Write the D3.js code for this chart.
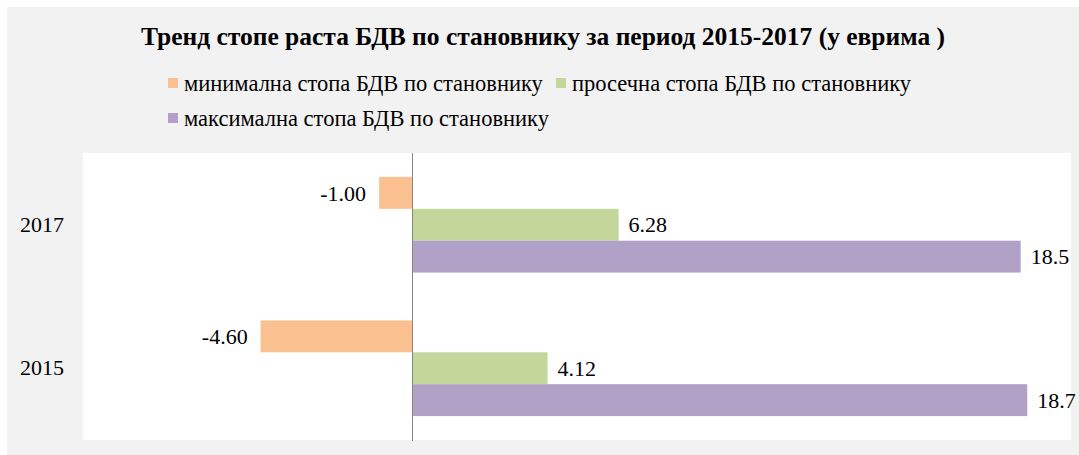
<!DOCTYPE html>
<html>
<head>
<meta charset="utf-8">
<script src="https://cdn.jsdelivr.net/npm/d3@7"></script>
<style>
  body { margin: 0; background: #ffffff; }
  text { font-family: "Liberation Serif", "Times New Roman", serif; fill: #000; }
</style>
</head>
<body>
<div id="chart"></div>
<script>
const width = 1079;
const height = 455;

const titleText = "Тренд стопе раста БДВ по становнику за период 2015-2017 (у еврима )";
const years = ["2017", "2015"];
const seriesNames = [
    "минимална стопа БДВ по становнику",
    "просечна стопа БДВ по становнику",
    "максимална стопа БДВ по становнику"
];
const minValues = [-1.00, -4.60];
const avgValues = [6.28, 4.12];
const maxValues = [18.5, 18.7];
const seriesColors = ["#fac090", "#c4d79b", "#b2a1c7"];
const labelFormats = [".2f", ".2f", ".1f"];

const seriesValues = [minValues, avgValues, maxValues];

const svg = d3.select("#chart")
              .append("svg")
              .attr("width", width)
              .attr("height", height);

// outer chart background
svg.append("rect")
   .attr("x", 7).attr("y", 7)
   .attr("width", width - 7).attr("height", height - 7)
   .attr("fill", "#f2f2f2");

const plot = { left: 83, right: 1071, top: 153, bottom: 440 };

svg.append("rect")
   .attr("x", plot.left).attr("y", plot.top)
   .attr("width", plot.right - plot.left)
   .attr("height", plot.bottom - plot.top)
   .attr("fill", "#ffffff");

const x = d3.scaleLinear().domain([-10, 20]).range([plot.left, plot.right - 1]);

const gap = 1 / 3; // excel gap width 50%
const y = d3.scaleBand()
            .domain(years)
            .range([plot.top, plot.bottom])
            .paddingInner(gap)
            .paddingOuter(gap / 2);

const ySeries = d3.scaleBand()
                  .domain(d3.range(seriesNames.length))
                  .range([0, y.bandwidth()]);

// hyphen instead of unicode minus, like the original labels
const fmt = (spec, v) => d3.format(spec)(v).replace("\u2212", "-");

// title
svg.append("text")
   .attr("x", 543)
   .attr("y", 45)
   .attr("text-anchor", "middle")
   .style("font-size", "25.5px")
   .style("font-weight", "bold")
   .text(titleText);

// legend
const legendPos = [[168, 83], [556, 83], [168, 118]];
const legend = svg.selectAll(".legend-item")
                  .data(seriesNames)
                  .enter()
                  .append("g")
                  .attr("class", "legend-item")
                  .attr("transform", (d, i) => `translate(${legendPos[i][0]},${legendPos[i][1]})`);

legend.append("rect")
      .attr("x", 0).attr("y", -5)
      .attr("width", 10).attr("height", 10)
      .attr("fill", (d, i) => seriesColors[i]);

legend.append("text")
      .attr("x", 16)
      .attr("y", 0)
      .attr("dy", "0.35em")
      .style("font-size", "22.5px")
      .text(d => d);

// bars
const groups = svg.selectAll(".year-group")
                  .data(years)
                  .enter()
                  .append("g")
                  .attr("class", "year-group")
                  .attr("transform", d => `translate(0,${y(d)})`);

groups.selectAll("rect")
      .data((d, yi) => seriesValues.map((vals, si) => ({ si, value: vals[yi] })))
      .enter()
      .append("rect")
      .attr("x", d => x(Math.min(0, d.value)))
      .attr("y", d => ySeries(d.si))
      .attr("width", d => Math.abs(x(d.value) - x(0)))
      .attr("height", ySeries.bandwidth())
      .attr("fill", d => seriesColors[d.si]);

groups.selectAll(".value-label")
      .data((d, yi) => seriesValues.map((vals, si) => ({ si, value: vals[yi] })))
      .enter()
      .append("text")
      .attr("class", "value-label")
      .attr("x", d => d.value < 0 ? x(d.value) - 13 : x(d.value) + 10)
      .attr("y", d => ySeries(d.si) + ySeries.bandwidth() / 2)
      .attr("dy", "0.35em")
      .attr("text-anchor", d => d.value < 0 ? "end" : "start")
      .style("font-size", "22px")
      .text(d => fmt(labelFormats[d.si], d.value));

// zero axis line
svg.append("line")
   .attr("x1", x(0) + 0.5).attr("x2", x(0) + 0.5)
   .attr("y1", plot.top).attr("y2", plot.bottom + 1)
   .attr("stroke", "#868686")
   .attr("stroke-width", 1);

// category labels
const yAxis = d3.axisLeft(y).tickSize(0).tickPadding(0);
const yAxisG = svg.append("g")
                  .attr("transform", `translate(64,0)`)
                  .call(yAxis);
yAxisG.select(".domain").remove();
yAxisG.selectAll("text")
      .style("font-size", "22px")
      .style("font-family", "\"Liberation Serif\", \"Times New Roman\", serif")
      .attr("fill", "#000");
</script>
</body>
</html>
